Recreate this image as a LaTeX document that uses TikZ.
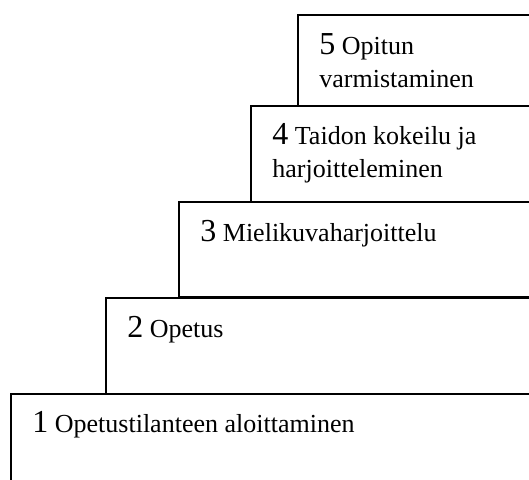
\documentclass[tikz,border=0pt]{standalone}
\usepackage{fontspec}
\setmainfont{Liberation Serif}
\usepackage{tikz}

\tikzset{
  stepbox/.style={draw, line width=1pt},
  steptext/.style={anchor=base west, inner sep=0pt, align=left,
    font=\fontsize{13}{16.5}\selectfont},
}
\newcommand{\stepnum}[1]{{\fontsize{16}{16.5}\selectfont #1}}

\begin{document}
\begin{tikzpicture}[x=0.5pt, y=-0.5pt]
    \useasboundingbox (0,0) rectangle (529,479);
    \clip (0,0) rectangle (529,479);

    % Portaat
    \draw[stepbox] (11,394) rectangle (540,490);
    \draw[stepbox] (106,298) rectangle (540,394);
    \draw[stepbox] (179,202) rectangle (540,297);
    \draw[stepbox] (251,106) rectangle (540,202);
    \draw[stepbox] (298,15) rectangle (540,106);

    % Tekstit (kahden rivin tekstit: base = viimeisen rivin perusviiva)
    \node[steptext] (t1) at (32,432) {\stepnum{1} Opetustilanteen aloittaminen};
    \node[steptext] (t2) at (127,337) {\stepnum{2} Opetus};
    \node[steptext] (t3) at (200,241) {\stepnum{3} Mielikuvaharjoittelu};
    \node[steptext] (t4) at (272,177) {\stepnum{4} Taidon kokeilu ja\\harjoitteleminen};
    \node[steptext] (t5) at (319,87) {\stepnum{5} Opitun\\varmistaminen};
\end{tikzpicture}
\end{document}
